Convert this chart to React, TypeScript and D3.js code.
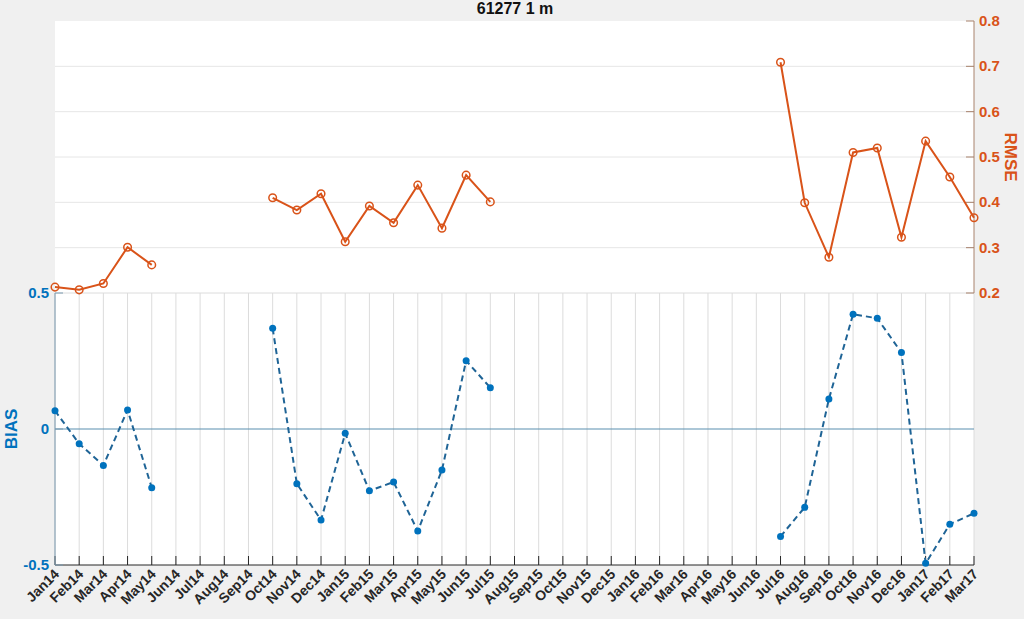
import React from "react";
import * as d3 from "d3";

const months = ["Jan14","Feb14","Mar14","Apr14","May14","Jun14","Jul14","Aug14","Sep14","Oct14","Nov14","Dec14","Jan15","Feb15","Mar15","Apr15","May15","Jun15","Jul15","Aug15","Sep15","Oct15","Nov15","Dec15","Jan16","Feb16","Mar16","Apr16","May16","Jun16","Jul16","Aug16","Sep16","Oct16","Nov16","Dec16","Jan17","Feb17","Mar17"];

const rmse: (number | null)[] = [0.213,0.207,0.221,0.301,0.262,null,null,null,null,0.410,0.383,0.419,0.313,0.392,0.355,0.438,0.343,0.460,0.401,null,null,null,null,null,null,null,null,null,null,null,0.709,0.399,0.279,0.510,0.520,0.323,0.535,0.456,0.366];

const bias: (number | null)[] = [0.067,-0.054,-0.134,0.070,-0.216,null,null,null,null,0.370,-0.201,-0.335,-0.016,-0.227,-0.195,-0.375,-0.151,0.251,0.152,null,null,null,null,null,null,null,null,null,null,null,-0.395,-0.288,0.110,0.422,0.407,0.281,-0.494,-0.350,-0.310];

const rmseTicks = [0.2,0.3,0.4,0.5,0.6,0.7,0.8];
const biasTicks = [-0.5,0,0.5];

const W = 1024, H = 619;
const L = 55, R = 974, T = 21, MID = 293, B = 565;
const ORANGE = "#d95319";
const BLUE = "#0072bd";
const FONT = "'Liberation Sans', Arial, Helvetica, sans-serif";

export default function App() {
  const x = d3.scaleLinear().domain([0, months.length - 1]).range([L, R]);
  const yR = d3.scaleLinear().domain([0.2, 0.8]).range([MID, T]);
  const yB = d3.scaleLinear().domain([-0.5, 0.5]).range([B, MID]);

  const lineR = d3.line<number | null>()
    .defined(d => d !== null)
    .x((_, i) => x(i))
    .y(d => yR(d as number));
  const lineB = d3.line<number | null>()
    .defined(d => d !== null)
    .x((_, i) => x(i))
    .y(d => yB(d as number));

  return (
    <svg width={W} height={H} style={{ position: "absolute", left: 0, top: 0 }} fontFamily={FONT}>
      <rect x={0} y={0} width={W} height={H} fill="#f0f0f0" />
      <rect x={L} y={T} width={R - L} height={B - T} fill="#ffffff" />
      {/* title */}
      <text x={515} y={14} textAnchor="middle" fontSize={16} fontWeight="bold" fill="#111">61277 1 m</text>

      {/* top axes horizontal grid */}
      {rmseTicks.slice(1, -1).map(t => (
        <line key={"gr" + t} x1={L} x2={R} y1={yR(t)} y2={yR(t)} stroke="#e6e6e6" strokeWidth={1} />
      ))}

      {/* bottom axes vertical grid */}
      {months.map((m, i) => (
        <line key={"gv" + m} x1={x(i)} x2={x(i)} y1={MID} y2={B} stroke="#dcdcdc" strokeWidth={1} />
      ))}
      <line x1={L} x2={R} y1={MID} y2={MID} stroke="#dcdcdc" strokeWidth={1} />

      {/* zero line */}
      <line x1={L} x2={R} y1={yB(0)} y2={yB(0)} stroke="#5b8fb0" strokeWidth={1.2} />

      {/* bottom x axis */}
      <line x1={L} x2={R} y1={B} y2={B} stroke="#262626" strokeWidth={1} />
      {months.map((m, i) => (
        <g key={"xt" + m}>
          <line x1={x(i)} x2={x(i)} y1={B} y2={B - 9} stroke="#262626" strokeWidth={1} />
          <text
            transform={`translate(${x(i) + 5},${B + 10}) rotate(-45)`}
            textAnchor="end"
            fontSize={14}
            fontWeight="bold"
            fill="#262626"
          >{m}</text>
        </g>
      ))}

      {/* left BIAS axis */}
      <line x1={L} x2={L} y1={MID} y2={B} stroke="#7a9ab0" strokeWidth={1} />
      {biasTicks.map(t => (
        <g key={"yb" + t}>
          <line x1={L} x2={L + 8} y1={yB(t)} y2={yB(t)} stroke="#7a9ab0" strokeWidth={1} />
          <text x={L - 6} y={yB(t) + 5} textAnchor="end" fontSize={15} fontWeight="bold" fill={BLUE}>{String(t)}</text>
        </g>
      ))}
      <text transform={`translate(17,${yB(0)}) rotate(-90)`} textAnchor="middle" fontSize={17} fontWeight="bold" fill={BLUE}>BIAS</text>

      {/* right RMSE axis */}
      <line x1={R} x2={R} y1={T} y2={MID} stroke="#a8826c" strokeWidth={1} />
      {rmseTicks.map(t => (
        <g key={"yr" + t}>
          <line x1={R - 8} x2={R} y1={yR(t)} y2={yR(t)} stroke="#a8826c" strokeWidth={1} />
          <text x={R + 5} y={yR(t) + 5} textAnchor="start" fontSize={15} fontWeight="bold" fill={ORANGE}>{t.toFixed(1)}</text>
        </g>
      ))}
      <text transform={`translate(1005,${(T + MID) / 2}) rotate(90)`} textAnchor="middle" fontSize={17} fontWeight="bold" fill={ORANGE}>RMSE</text>

      {/* RMSE series */}
      <path d={lineR(rmse) || ""} fill="none" stroke={ORANGE} strokeWidth={2} />
      {rmse.map((v, i) => v === null ? null : (
        <circle key={"cr" + i} cx={x(i)} cy={yR(v)} r={3.8} fill="none" stroke={ORANGE} strokeWidth={1.5} />
      ))}

      {/* BIAS series */}
      <path d={lineB(bias) || ""} fill="none" stroke="#1f6496" strokeWidth={2} strokeDasharray="6,4" />
      {bias.map((v, i) => v === null ? null : (
        <circle key={"cb" + i} cx={x(i)} cy={yB(v)} r={3.5} fill={BLUE} />
      ))}
    </svg>
  );
}
